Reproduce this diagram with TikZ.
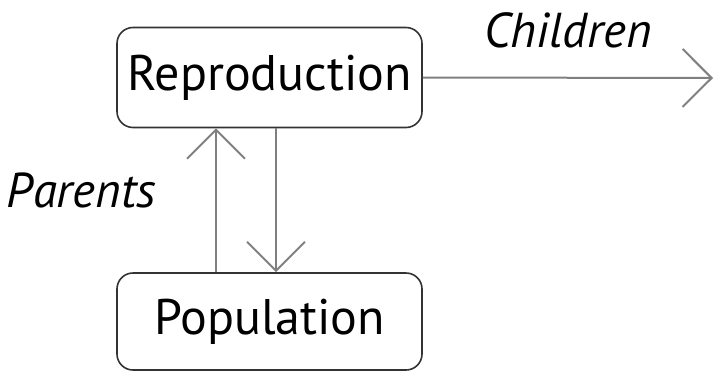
\documentclass[tikz,border=0pt]{standalone}
\usepackage{fontspec}
\setmainfont{PT Sans}
\usetikzlibrary{arrows.meta}

\begin{document}
\begin{tikzpicture}[
	x=1pt, y=-1pt,
	stage/.style={draw=black!80, line width=1.6pt, rounded corners=16pt,
		minimum width=305pt, minimum height=100pt, inner sep=0pt,
		font=\fontsize{50}{54}\selectfont},
	flow/.style={draw=black!50, line width=2pt,
		-{Straight Barb[length=29pt, width=58pt, line width=2pt]}},
	tag/.style={font=\fontsize{49}{54}\selectfont\itshape, inner sep=0pt}
	]

	\def\upX{-53.5} % offset of the parents arrow
	\def\downX{6.5} % offset of the return arrow

	\useasboundingbox (0,0) rectangle (714,372);

	% the two stages
	\node[stage] (repro) at (269.5,77.5) {Reproduction};
	\node[stage, minimum height=97pt] (popu) at (269.5,321.5) {Population};

	% offspring leave to the right
	\coordinate (out) at (713,78);
	\draw[flow] (repro.east) -- node[tag, anchor=base, yshift=30pt] {Children} (out);

	% parents go up, the others come back down
	\draw[flow] ([xshift=\upX pt]popu.north) -- ([xshift=\upX pt]repro.south)
		node[tag, pos=0.45, anchor=base east, xshift=-59pt] {Parents};
	\draw[flow] ([xshift=\downX pt]repro.south) -- ([xshift=\downX pt]popu.north);

\end{tikzpicture}
\end{document}
